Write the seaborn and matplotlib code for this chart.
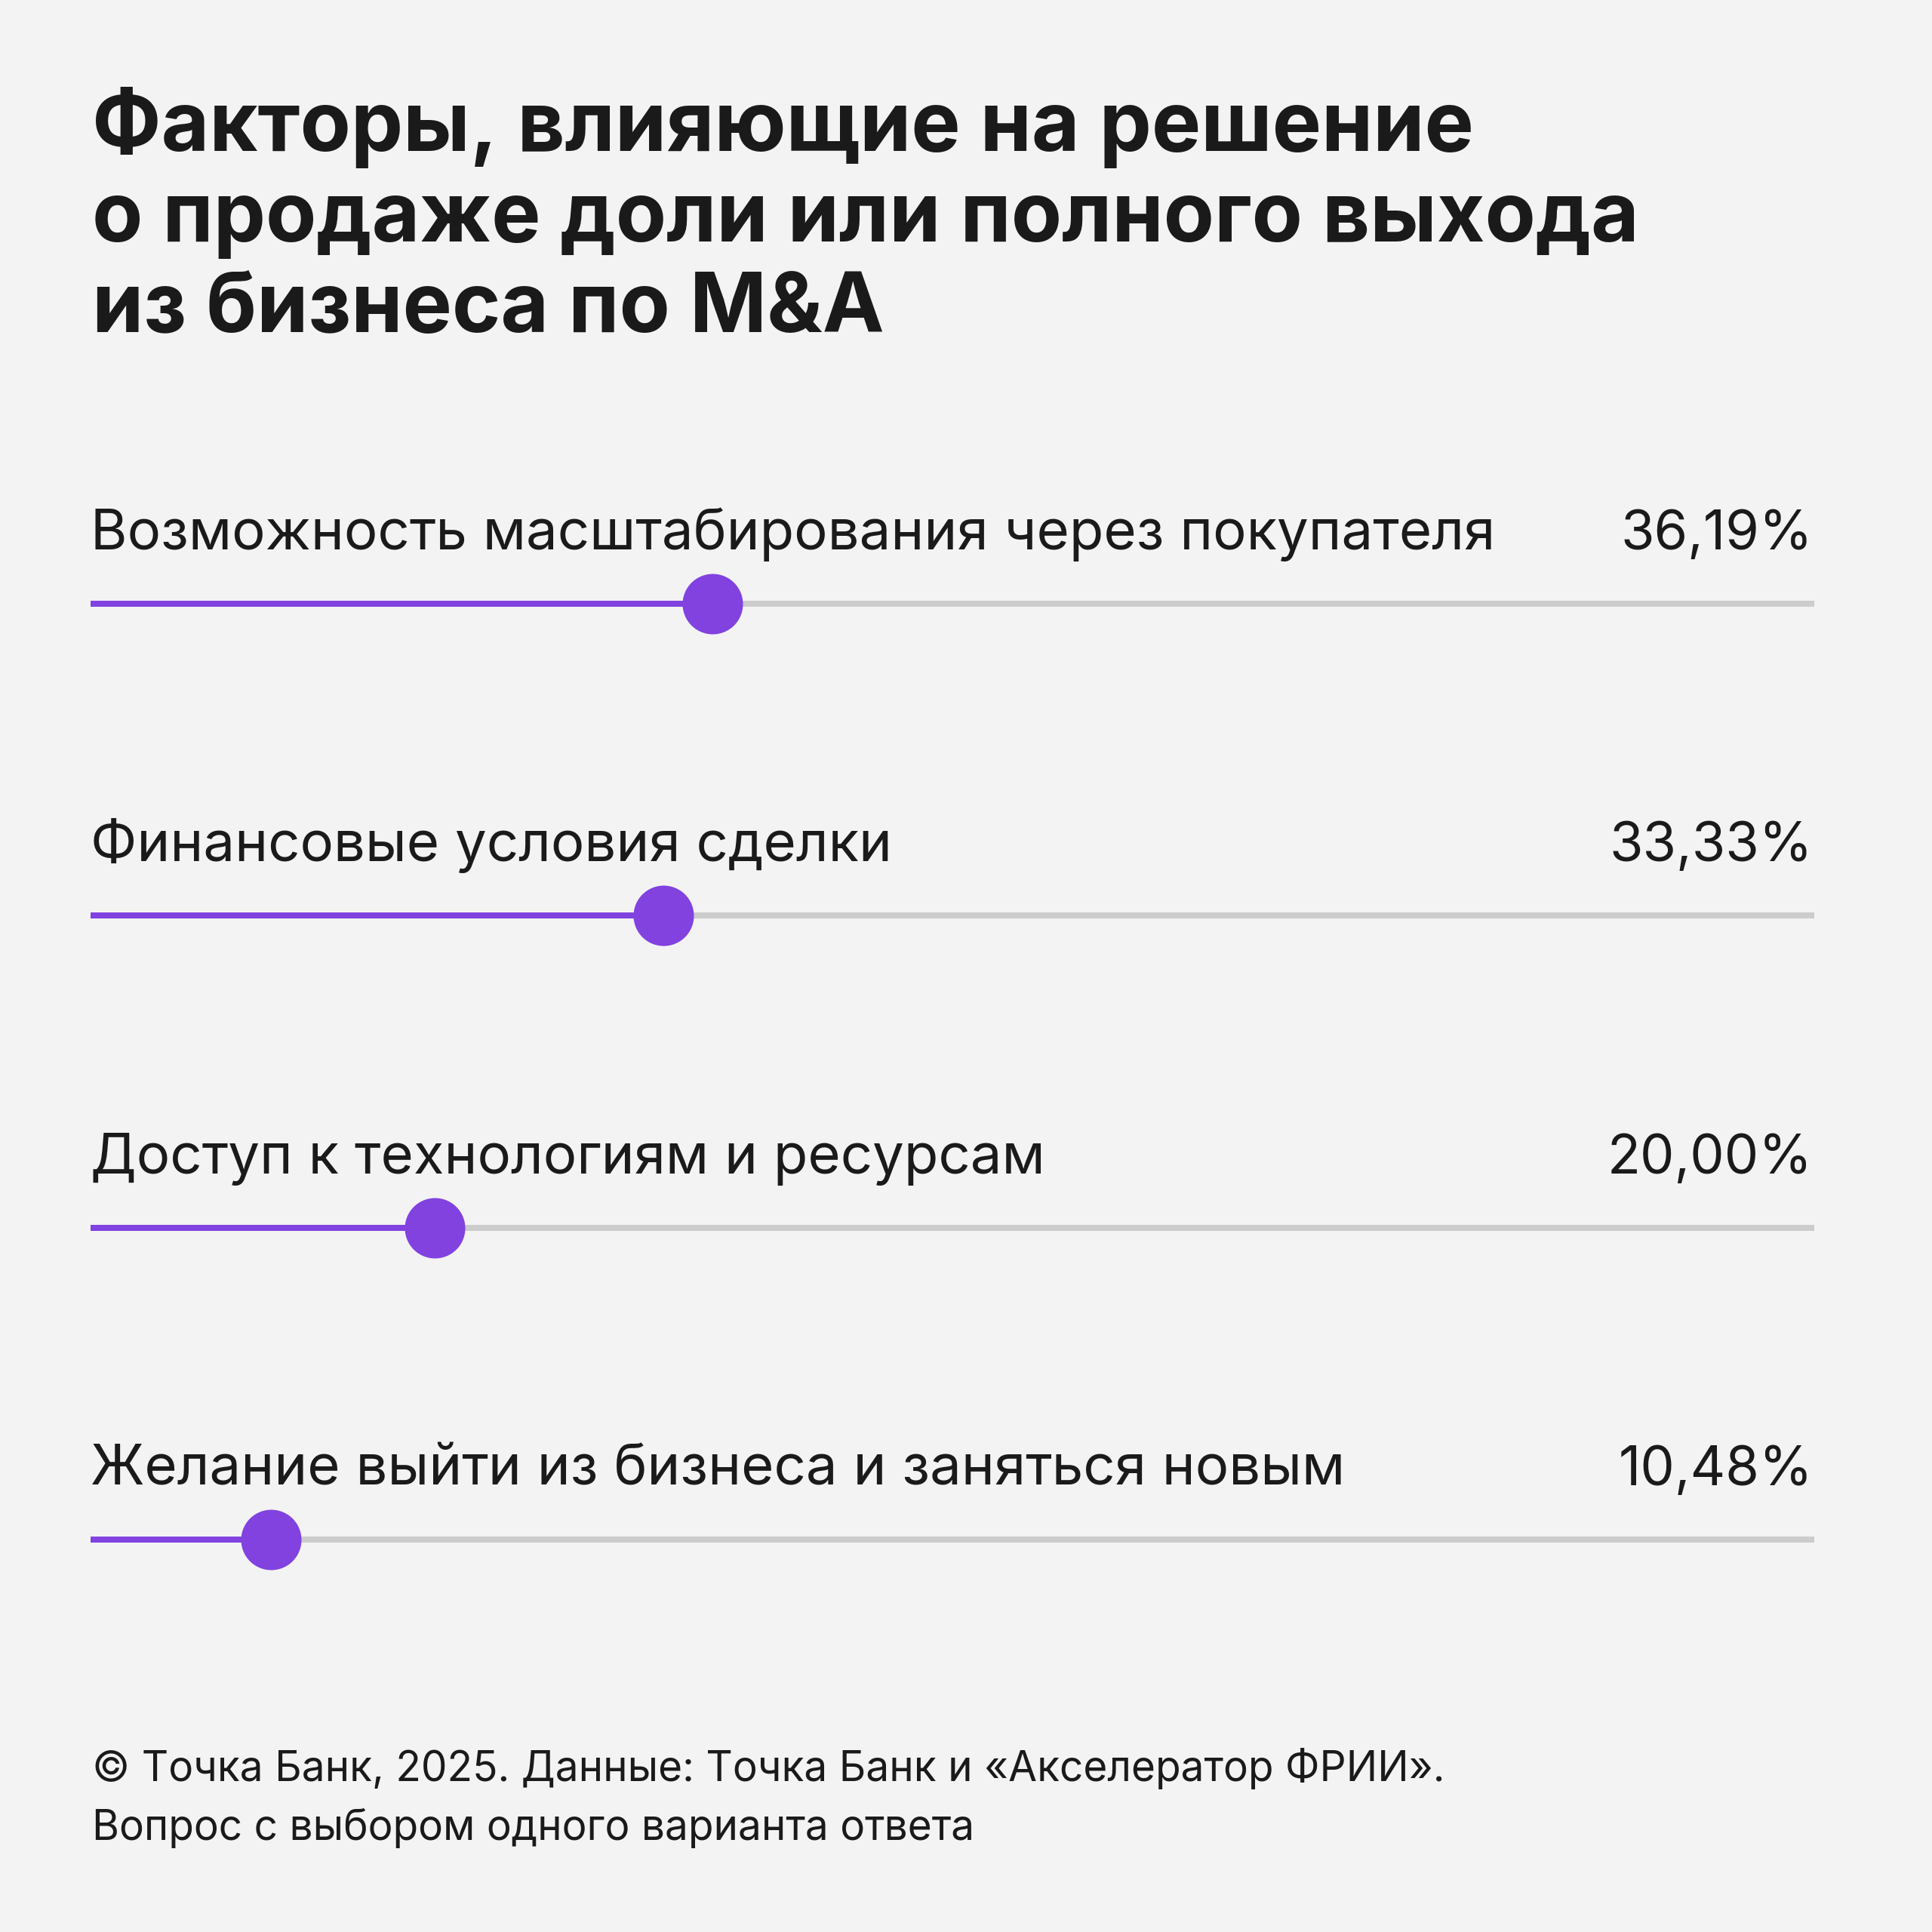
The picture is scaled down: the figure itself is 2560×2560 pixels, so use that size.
import matplotlib
matplotlib.use('Agg')
import matplotlib.pyplot as plt
import matplotlib.transforms as mtransforms
import seaborn as sns
import pandas as pd

factors = [
    'Возможность масштабирования через покупателя',
    'Финансовые условия сделки',
    'Доступ к технологиям и ресурсам',
    'Желание выйти из бизнеса и заняться новым',
]
shares = [36.19, 33.33, 20.00, 10.48]
value_labels = ['36,19%', '33,33%', '20,00%', '10,48%']

title_lines = [
    'Факторы, влияющие на решение',
    'о продаже доли или полного выхода',
    'из бизнеса по M&A',
]
footer_lines = [
    '© Точка Банк, 2025. Данные: Точка Банк и «Акселератор ФРИИ».',
    'Вопрос с выбором одного варианта ответа',
]

bg = '#F3F3F3'
purple = '#8142E0'
track = '#CCCCCC'
ink = '#1A1A1A'

sns.set_theme(style='white')
plt.rcParams['font.family'] = ['Inter', 'DejaVu Sans']

df = pd.DataFrame({'factor': factors, 'share': shares, 'row': range(len(factors))})

W = 2560
fig = plt.figure(figsize=(25.6, 25.6), dpi=100, facecolor=bg)
ax = fig.add_axes([0, 0, 1, 1])
ax.set_facecolor(bg)

# axis mapping: 0% at 120 px, 100% at 2398 px; rows at 800 px + i*413 px from top
x0, x100 = 120, 2398
px = (x100 - x0) / 100
ax.set_xlim(-x0 / px, 100 + (W - x100) / px)
row0, step = 800, 413.3
ax.set_ylim((W - row0) / step, -row0 / step)
ax.axis('off')

# grey track runs a touch past 100% to the right margin (2404 px)
track_end = (2404 - x0) / px
lw = 8 * 72 / 100
ax.hlines(df['row'], 0, track_end, color=track, linewidth=lw, capstyle='butt', zorder=1)
ax.hlines(df['row'], 0, df['share'], color=purple, linewidth=lw, capstyle='butt', zorder=2)
sns.scatterplot(data=df, x='share', y='row', color=purple, s=(80 * 72 / 100) ** 2,
                linewidth=0, zorder=3, ax=ax, legend=False)

right = mtransforms.blended_transform_factory(fig.transFigure, ax.transData)
text_off = 72 / step
for i, (name, lab) in enumerate(zip(factors, value_labels)):
    ax.text(0, i - text_off, name, fontsize=53.5, color=ink, va='baseline', ha='left')
    ax.text(2402 / W, i - text_off, lab, fontsize=52, color=ink, va='baseline',
            ha='right', transform=right)

for j, line in enumerate(title_lines):
    fig.text(122 / W, 1 - (200 + 120 * j) / W, line, fontsize=79, fontweight='bold',
             color=ink, va='baseline', ha='left')

for j, line in enumerate(footer_lines):
    fig.text(122 / W, 1 - (2360 + 78 * j) / W, line, fontsize=39.6, color=ink,
             va='baseline', ha='left')

fig.savefig('out.png', dpi=100, facecolor=bg)
